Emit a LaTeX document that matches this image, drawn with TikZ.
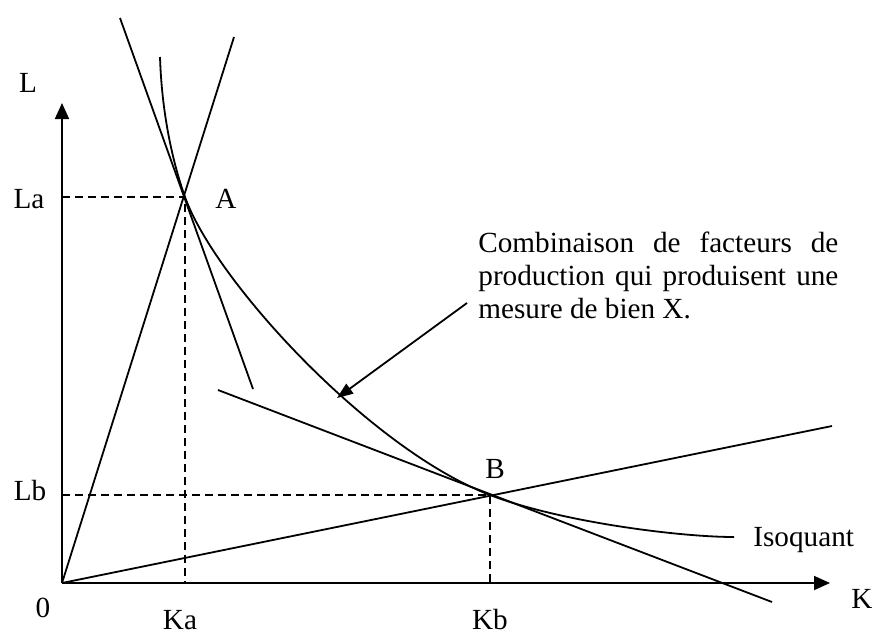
\documentclass[tikz,border=0pt]{standalone}
\usepackage{fontspec}
\setmainfont{Liberation Serif}
\usetikzlibrary{arrows.meta}

\begin{document}
\begin{tikzpicture}[
    x=0.5pt, y=-0.5pt,
    curve/.style = {line width=0.9pt},
    guide/.style = {line width=0.9pt, dash pattern=on 4pt off 2.5pt},
    axis/.style  = {line width=0.9pt, -{Triangle[length=8pt,width=7pt]}},
    ptr/.style   = {line width=0.9pt, -{Triangle[length=8pt,width=6pt]}},
    lbl/.style   = {font=\fontsize{14.6}{16.5}\selectfont, inner sep=0pt, anchor=base}
  ]
  \useasboundingbox (0,0) rectangle (876,633);

  % ── Key points ─────────────────────────────────────────────────────────────
  \coordinate (O)     at (62,583);
  \coordinate (A)     at (185,197);
  \coordinate (B)     at (490,495);
  \coordinate (ytop)  at (62,103);
  \coordinate (xend)  at (830,583);
  \coordinate (yLa)   at (62,197);
  \coordinate (yLb)   at (62,495);
  \coordinate (xKa)   at (185,583);
  \coordinate (xKb)   at (490,583);
  \coordinate (rayA)  at (234,37);
  \coordinate (rayB)  at (832,426);
  \coordinate (tanA1) at (120,18);
  \coordinate (tanA2) at (253,389);
  \coordinate (tanB1) at (218,390);
  \coordinate (tanB2) at (772,602);
  \coordinate (isoS)  at (160,57);
  \coordinate (isoE)  at (734,537);
  \coordinate (tail)  at (467,303);
  \coordinate (tip)   at (337,398);

  % ── Axes ───────────────────────────────────────────────────────────────────
  \draw[axis] (O) -- (ytop);
  \draw[axis] (O) -- (xend);

  % ── Guides ─────────────────────────────────────────────────────────────────
  \draw[guide] (yLa) -- (A) -- (xKa);
  \draw[guide] (yLb) -- (B) -- (xKb);

  % ── Rays and tangents ──────────────────────────────────────────────────────
  \draw[curve] (O) -- (rayA);
  \draw[curve] (O) -- (rayB);
  \draw[curve] (tanA1) -- (tanA2);
  \draw[curve] (tanB1) -- (tanB2);

  % ── Isoquant ───────────────────────────────────────────────────────────────
  \draw[curve] (isoS) .. controls (162,120) and (175,169) .. (A)
                      .. controls (215,281) and (370,449) .. (B)
                      .. controls (560,522) and (680,537) .. (isoE);

  % ── Labels ─────────────────────────────────────────────────────────────────
  \node[lbl] (lL)   at (28,92)   {L};
  \node[lbl] (lK)   at (862,608) {K};
  \node[lbl] (l0)   at (43,617)  {0};
  \node[lbl] (lLa)  at (29,208)  {La};
  \node[lbl] (lLb)  at (30,500)  {Lb};
  \node[lbl] (lKa)  at (180,629) {Ka};
  \node[lbl] (lKb)  at (490,629) {Kb};
  \node[lbl] (lA)   at (226,208) {A};
  \node[lbl] (lB)   at (495,478) {B};
  \node[lbl, anchor=base west] (liso) at (753,546) {Isoquant};

  % ── Note ───────────────────────────────────────────────────────────────────
  \node[lbl, anchor=base west, text width=180pt, align=justify] (note) at (478,252)
    {Combinaison de facteurs de production qui produisent une mesure de bien X.};
  \draw[ptr] (tail) -- (tip);

\end{tikzpicture}
\end{document}
